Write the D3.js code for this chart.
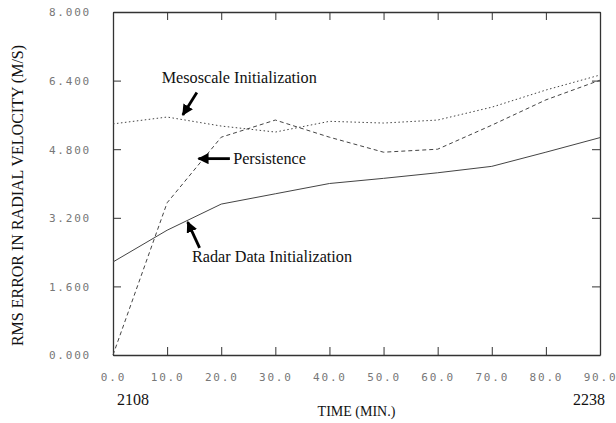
<!DOCTYPE html>
<html>
<head>
<meta charset="utf-8">
<script src="https://cdn.jsdelivr.net/npm/d3@7"></script>
<style>
  body { margin: 0; background: #fff; }
</style>
</head>
<body>
<svg id="chart" width="616" height="423"></svg>
<script>
// data
var minutes = [0, 10, 20, 30, 40, 50, 60, 70, 80, 90];
var radar = [2.17, 2.91, 3.52, 3.76, 4.0, 4.12, 4.25, 4.40, 4.73, 5.07];
var meso = [5.39, 5.55, 5.34, 5.20, 5.45, 5.41, 5.48, 5.78, 6.18, 6.53];
var persist = [0.0, 3.55, 5.08, 5.48, 5.08, 4.73, 4.80, 5.36, 5.95, 6.41];
var yTicks = [0, 1.6, 3.2, 4.8, 6.4, 8.0];
var xTicks = [0, 10, 20, 30, 40, 50, 60, 70, 80, 90];
var clockLabels = ["2108", "2238"];
// annotations: text + arrow (in data units)
var notes = [
  {text: "Mesoscale Initialization", tx: 9, ty: 6.35, from: [15.5, 6.12], to: [12.9, 5.6]},
  {text: "Persistence", tx: 22.2, ty: 4.46, from: [21.6, 4.58], to: [15.8, 4.58]},
  {text: "Radar Data Initialization", tx: 14.6, ty: 2.17, from: [16, 2.5], to: [13.8, 3.1]}
];

var svg = d3.select("#chart"),
    margin = {top: 12, right: 16, bottom: 68, left: 113},
    width = +svg.attr("width") - margin.left - margin.right,
    height = +svg.attr("height") - margin.top - margin.bottom,
    g = svg.append("g").attr("transform", "translate(" + margin.left + "," + margin.top + ")");

var x = d3.scaleLinear().domain([0, 90]).range([0, width]);
var y = d3.scaleLinear().domain([0, 8]).range([height, 0]);

var tickLen = 8;
var frameColor = "#333";

function styleAxis(sel, showText) {
  sel.select(".domain").attr("stroke", frameColor).attr("stroke-width", 1.3);
  sel.selectAll(".tick line").attr("stroke", frameColor).attr("stroke-width", 1);
  if (!showText) sel.selectAll(".tick text").remove();
  else sel.selectAll(".tick text")
      .attr("fill", "#777")
      .attr("font-family", "DejaVu Sans Mono")
      .attr("font-size", 11)
      .attr("letter-spacing", 1.8);
}

// bottom axis, ticks pointing up
var xb = g.append("g").attr("transform", "translate(0," + height + ")")
    .call(d3.axisBottom(x).tickValues(xTicks).tickSizeInner(-tickLen).tickSizeOuter(0)
      .tickFormat(d3.format(".1f")).tickPadding(18));
styleAxis(xb, true);

// top axis
var xt = g.append("g")
    .call(d3.axisTop(x).tickValues(xTicks).tickSizeInner(-tickLen).tickSizeOuter(0));
styleAxis(xt, false);

// left axis, ticks pointing right
var yl = g.append("g")
    .call(d3.axisLeft(y).tickValues(yTicks).tickSizeInner(-tickLen).tickSizeOuter(0)
      .tickFormat(d3.format(".3f")).tickPadding(22));
styleAxis(yl, true);
yl.selectAll(".tick text").attr("dy", "0.35em");

// right axis
var yr = g.append("g").attr("transform", "translate(" + width + ",0)")
    .call(d3.axisRight(y).tickValues(yTicks).tickSizeInner(-tickLen).tickSizeOuter(0));
styleAxis(yr, false);

// series
var line = d3.line()
    .x(function(d, i) { return x(minutes[i]); })
    .y(function(d) { return y(d); });

var series = [
  {values: meso, dash: "1.5,2.5"},
  {values: persist, dash: "4,3"},
  {values: radar, dash: null}
];

series.forEach(function(s) {
  g.append("path")
      .datum(s.values)
      .attr("fill", "none")
      .attr("stroke", "#444")
      .attr("stroke-width", 1)
      .attr("stroke-dasharray", s.dash)
      .attr("d", line);
});

// arrows
svg.append("defs").append("marker")
    .attr("id", "head")
    .attr("viewBox", "0 0 10 10")
    .attr("refX", 9).attr("refY", 5)
    .attr("markerWidth", 4).attr("markerHeight", 4)
    .attr("orient", "auto")
  .append("path")
    .attr("d", "M0,0L10,5L0,10z")
    .attr("fill", "#000");

notes.forEach(function(n) {
  g.append("line")
      .attr("x1", x(n.from[0])).attr("y1", y(n.from[1]))
      .attr("x2", x(n.to[0])).attr("y2", y(n.to[1]))
      .attr("stroke", "#000")
      .attr("stroke-width", 2.8)
      .attr("marker-end", "url(#head)");
  g.append("text")
      .attr("x", x(n.tx)).attr("y", y(n.ty))
      .attr("font-family", "Liberation Serif")
      .attr("font-size", 16.2)
      .attr("fill", "#111")
      .text(n.text);
});

// clock times under the x axis ends
g.selectAll(".clock")
    .data(clockLabels)
  .enter().append("text")
    .attr("x", function(d, i) { return i === 0 ? x(0) + 20 : x(90) - 11; })
    .attr("y", height + 50)
    .attr("text-anchor", "middle")
    .attr("font-family", "Liberation Serif")
    .attr("font-size", 16)
    .attr("fill", "#111")
    .text(function(d) { return d; });

// axis titles
g.append("text")
    .attr("x", width / 2)
    .attr("y", height + 61)
    .attr("text-anchor", "middle")
    .attr("font-family", "Liberation Serif")
    .attr("font-size", 14)
    .attr("fill", "#111")
    .text("TIME (MIN.)");

svg.append("text")
    .attr("transform", "translate(23," + (margin.top + height / 2 + 12) + ") rotate(-90)")
    .attr("text-anchor", "middle")
    .attr("font-family", "Liberation Serif")
    .attr("font-size", 16)
    .attr("fill", "#111")
    .text("RMS ERROR IN RADIAL VELOCITY (M/S)");
</script>
</body>
</html>
